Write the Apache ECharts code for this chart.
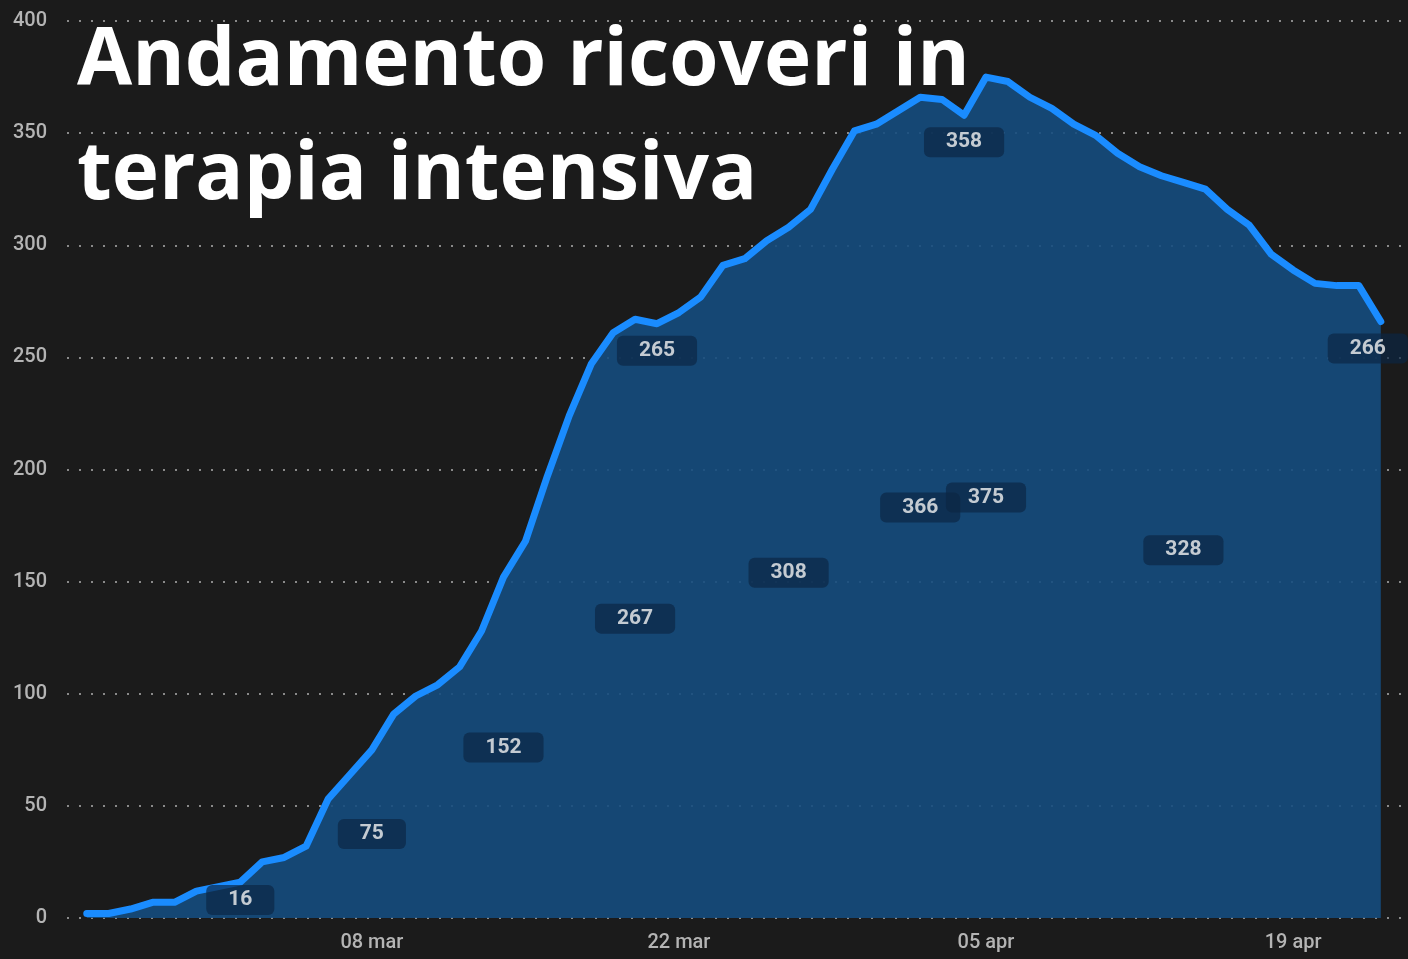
<!DOCTYPE html>
<html>
<head>
<meta charset="utf-8">
<style>
  html, body { margin: 0; padding: 0; background: #1b1b1b; }
  #container { width: 1408px; height: 959px; }
</style>
<script src="https://cdn.jsdelivr.net/npm/echarts@6/dist/echarts.min.js"></script>
</head>
<body>
<div id="container"></div>
<script>
// dati: ricoverati in terapia intensiva, un valore al giorno dal 24 feb al 23 apr
var icuValues = [
    2, 2, 4, 7, 7, 12, 14, 16, 25, 27,
    32, 53, 64, 75, 91, 99, 104, 112, 128, 152,
    168, 197, 224, 247, 261, 267, 265, 270, 277, 291,
    294, 302, 308, 316, 334, 351, 354, 360, 366, 365,
    358, 375, 373, 366, 361, 354, 349, 341, 335, 331,
    328, 325, 316, 309, 296, 289, 283, 282, 282, 266
];

// etichette dell'asse x (indice del giorno -> testo)
var xTickIdx = [13, 27, 41, 55];
var xTickLabels = ['08 mar', '22 mar', '05 apr', '19 apr'];

// valori evidenziati: giorno e dove sta il riquadro ('mid' = metà area, 'below' = sotto la linea)
var labelIdx = [7, 13, 19, 25, 26, 32, 38, 40, 41, 50, 59];
var labelPos = ['mid', 'mid', 'mid', 'mid', 'below', 'mid', 'mid', 'below', 'mid', 'mid', 'below'];

var dom = document.getElementById('container');
var myChart = echarts.init(dom, null, { renderer: 'canvas' });

var lineData = icuValues.map(function (v, i) { return [i, v]; });

var labelData = labelIdx.map(function (idx, k) {
    var v = icuValues[idx];
    var below = labelPos[k] === 'below';
    var last = idx === icuValues.length - 1;
    return {
        value: [idx, below ? v : v / 2, v],
        label: { offset: [last ? -13 : 0, below ? 27 : 0] }
    };
});

var axisFont = {
    color: '#b4b4b4',
    fontFamily: 'Roboto',
    fontWeight: 500,
    fontSize: 20
};

var option = {
    backgroundColor: '#1b1b1b',
    title: {
        text: 'Andamento ricoveri in\nterapia intensiva',
        left: 77,
        top: 5,
        padding: 0,
        textStyle: {
            color: '#ffffff',
            fontFamily: 'Open Sans',
            fontWeight: 'bold',
            fontSize: 80,
            lineHeight: 114
        }
    },
    grid: { left: 67, right: 0, top: 21, bottom: 41 },
    xAxis: {
        type: 'value',
        min: -0.9,
        max: 60.24,
        axisLine: { show: false },
        axisTick: { show: false },
        splitLine: { show: false },
        axisLabel: Object.assign({
            customValues: xTickIdx,
            margin: 15,
            formatter: function (val) {
                var k = xTickIdx.indexOf(Math.round(val));
                return k >= 0 ? xTickLabels[k] : '';
            }
        }, axisFont)
    },
    yAxis: {
        type: 'value',
        min: 0,
        max: 400,
        interval: 50,
        axisLine: { show: false },
        axisTick: { show: false },
        axisLabel: Object.assign({ margin: 20 }, axisFont),
        splitLine: {
            show: true,
            lineStyle: { color: '#8a8a8a', width: 2, type: [2, 10] }
        }
    },
    series: [
        {
            type: 'line',
            data: lineData,
            symbol: 'none',
            smooth: false,
            lineStyle: { color: '#1a8cff', width: 7, cap: 'round', join: 'round' },
            areaStyle: { color: 'rgba(21, 76, 126, 0.9)', opacity: 1 },
            z: 2
        },
        {
            type: 'scatter',
            data: labelData,
            symbolSize: 0,
            z: 5,
            silent: true,
            label: {
                show: true,
                position: 'inside',
                formatter: function (p) { return p.value[2]; },
                color: '#f2f2f2',
                fontFamily: 'Roboto',
                fontWeight: 'bold',
                fontSize: 21,
                backgroundColor: 'rgba(12, 38, 68, 0.85)',
                borderRadius: 6,
                padding: [5, 22, 4, 22]
            }
        }
    ]
};

myChart.setOption(option);
window.addEventListener('resize', myChart.resize);
</script>
</body>
</html>
